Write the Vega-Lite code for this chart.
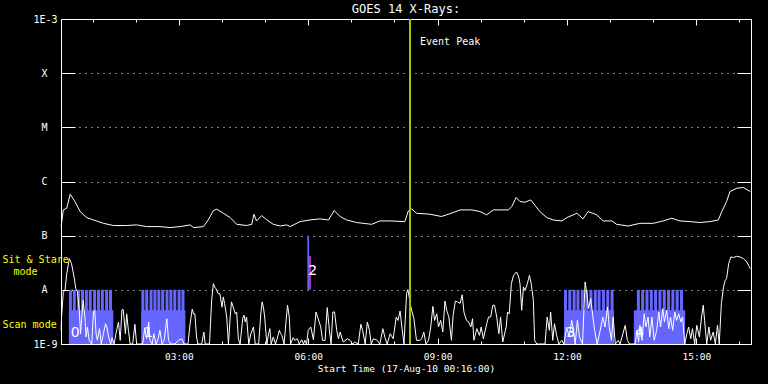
{
"$schema":"https://vega.github.io/schema/vega-lite/v6.json",
"width":690,"height":325,
"autosize":{"type":"none"},
"padding":{"left":61,"top":19,"right":17,"bottom":40},
"background":"black",
"title":{"text":"GOES 14 X-Rays:","color":"white","font":"DejaVu Sans Mono","fontSize":12,"fontWeight":"normal","offset":-11,"anchor":"middle","baseline":"alphabetic"},
"config":{
 "view":{"stroke":"white","strokeWidth":1},
 "axis":{"labelColor":"white","tickColor":"white","tickWidth":1,"domain":false,"grid":false,"labelFont":"DejaVu Sans Mono","labelFontSize":10,"titleFont":"DejaVu Sans Mono","titleColor":"white","titleFontWeight":"normal","titleFontSize":9.5,"labelOverlap":false,"labelFlush":false}
},
"datasets":{
 "goes_long":[
{"t":0.27,"flux":1.47e-7},{"t":0.32,"flux":2.99e-7},{"t":0.40,"flux":3.21e-7},{"t":0.48,"flux":5.82e-7},{"t":0.59,"flux":4.27e-7},{"t":0.71,"flux":2.79e-7},{"t":0.86,"flux":2.16e-7},{"t":1.02,"flux":1.95e-7},{"t":1.25,"flux":1.69e-7},{"t":1.48,"flux":1.54e-7},{"t":1.79,"flux":1.54e-7},{"t":2.02,"flux":1.58e-7},{"t":2.25,"flux":1.47e-7},{"t":2.56,"flux":1.47e-7},{"t":2.79,"flux":1.41e-7},{"t":3.03,"flux":1.47e-7},{"t":3.26,"flux":1.58e-7},{"t":3.34,"flux":1.41e-7},{"t":3.57,"flux":1.47e-7},{"t":3.68,"flux":1.95e-7},{"t":3.80,"flux":2.91e-7},{"t":3.88,"flux":3.08e-7},{"t":4.03,"flux":2.59e-7},{"t":4.19,"flux":2.16e-7},{"t":4.34,"flux":1.62e-7},{"t":4.57,"flux":1.54e-7},{"t":4.69,"flux":1.62e-7},{"t":4.74,"flux":2.49e-7},{"t":4.80,"flux":1.87e-7},{"t":4.92,"flux":2.35e-7},{"t":5.04,"flux":1.95e-7},{"t":5.19,"flux":1.62e-7},{"t":5.35,"flux":1.51e-7},{"t":5.50,"flux":1.58e-7},{"t":5.58,"flux":1.47e-7},{"t":5.81,"flux":1.82e-7},{"t":6.04,"flux":1.95e-7},{"t":6.27,"flux":2.04e-7},{"t":6.47,"flux":1.95e-7},{"t":6.60,"flux":2.91e-7},{"t":6.74,"flux":2.26e-7},{"t":6.89,"flux":1.95e-7},{"t":7.12,"flux":1.75e-7},{"t":7.47,"flux":1.62e-7},{"t":7.66,"flux":1.87e-7},{"t":7.90,"flux":1.87e-7},{"t":8.24,"flux":1.82e-7},{"t":8.32,"flux":2.86e-7},{"t":8.40,"flux":3.12e-7},{"t":8.51,"flux":2.59e-7},{"t":8.82,"flux":2.49e-7},{"t":9.09,"flux":2.26e-7},{"t":9.36,"flux":2.67e-7},{"t":9.52,"flux":2.99e-7},{"t":9.79,"flux":2.99e-7},{"t":9.98,"flux":2.79e-7},{"t":10.14,"flux":2.42e-7},{"t":10.29,"flux":2.99e-7},{"t":10.64,"flux":2.99e-7},{"t":10.72,"flux":3.45e-7},{"t":10.82,"flux":5.06e-7},{"t":10.91,"flux":4.27e-7},{"t":11.03,"flux":4.14e-7},{"t":11.10,"flux":4.38e-7},{"t":11.16,"flux":4.57e-7},{"t":11.26,"flux":3.60e-7},{"t":11.37,"flux":2.79e-7},{"t":11.53,"flux":2.16e-7},{"t":11.68,"flux":1.95e-7},{"t":11.88,"flux":1.87e-7},{"t":12.00,"flux":2.16e-7},{"t":12.23,"flux":2.59e-7},{"t":12.37,"flux":2.04e-7},{"t":12.49,"flux":2.79e-7},{"t":12.69,"flux":2.42e-7},{"t":12.84,"flux":1.87e-7},{"t":13.04,"flux":1.87e-7},{"t":13.15,"flux":1.62e-7},{"t":13.42,"flux":1.51e-7},{"t":13.69,"flux":1.69e-7},{"t":14.00,"flux":1.69e-7},{"t":14.23,"flux":1.87e-7},{"t":14.43,"flux":2.10e-7},{"t":14.62,"flux":1.87e-7},{"t":14.85,"flux":1.82e-7},{"t":15.08,"flux":1.75e-7},{"t":15.32,"flux":1.82e-7},{"t":15.51,"flux":1.95e-7},{"t":15.59,"flux":2.79e-7},{"t":15.70,"flux":4.27e-7},{"t":15.78,"flux":6.53e-7},{"t":15.94,"flux":7.52e-7},{"t":16.09,"flux":7.74e-7},{"t":16.25,"flux":6.53e-7}
 ],
 "goes_short":[
{"t":0.27,"flux":1.79e-9},{"t":0.28,"flux":3.15e-9},{"t":0.32,"flux":9.1e-9},{"t":0.36,"flux":9.8e-9},{"t":0.40,"flux":1.99e-8},{"t":0.46,"flux":3.77e-8},{"t":0.51,"flux":3.05e-8},{"t":0.57,"flux":1.73e-8},{"t":0.61,"flux":1.05e-8},{"t":0.65,"flux":9.1e-9},{"t":0.69,"flux":4.2e-9},{"t":0.72,"flux":1.55e-9},{"t":0.75,"flux":3.15e-9},{"t":0.78,"flux":6.4e-9},{"t":0.82,"flux":3.15e-9},{"t":0.85,"flux":1.35e-9},{"t":0.88,"flux":2.06e-9},{"t":0.92,"flux":1.17e-9},{"t":0.98,"flux":1e-9},{"t":1.02,"flux":3.9e-9},{"t":1.05,"flux":4.2e-9},{"t":1.08,"flux":1.55e-9},{"t":1.11,"flux":1.17e-9},{"t":1.16,"flux":1.92e-9},{"t":1.20,"flux":1e-9},{"t":1.25,"flux":1.55e-9},{"t":1.30,"flux":2.37e-9},{"t":1.33,"flux":2.06e-9},{"t":1.37,"flux":1.35e-9},{"t":1.42,"flux":1e-9},{"t":1.45,"flux":1.31e-9},{"t":1.50,"flux":1e-9},{"t":1.54,"flux":1.55e-9},{"t":1.60,"flux":2.55e-9},{"t":1.64,"flux":1.17e-9},{"t":1.68,"flux":4.3e-9},{"t":1.71,"flux":4.3e-9},{"t":1.76,"flux":1.55e-9},{"t":1.79,"flux":3.6e-9},{"t":1.83,"flux":1.79e-9},{"t":1.87,"flux":1e-9},{"t":1.93,"flux":1e-9},{"t":1.98,"flux":2.31e-9},{"t":2.02,"flux":1e-9},{"t":2.16,"flux":1e-9},{"t":2.21,"flux":2.0e-9},{"t":2.25,"flux":1.25e-9},{"t":2.30,"flux":2.55e-9},{"t":2.33,"flux":1.17e-9},{"t":2.38,"flux":1e-9},{"t":2.42,"flux":1.55e-9},{"t":2.47,"flux":1e-9},{"t":2.52,"flux":1.25e-9},{"t":2.56,"flux":1.79e-9},{"t":2.61,"flux":1e-9},{"t":2.66,"flux":1.17e-9},{"t":2.72,"flux":2.93e-9},{"t":2.76,"flux":1.17e-9},{"t":2.81,"flux":1e-9},{"t":2.91,"flux":1e-9},{"t":2.99,"flux":1.17e-9},{"t":3.07,"flux":1.25e-9},{"t":3.12,"flux":1e-9},{"t":3.21,"flux":1e-9},{"t":3.26,"flux":2.37e-9},{"t":3.31,"flux":4.4e-9},{"t":3.34,"flux":3.6e-9},{"t":3.37,"flux":3.6e-9},{"t":3.41,"flux":1.35e-9},{"t":3.44,"flux":1e-9},{"t":3.53,"flux":1e-9},{"t":3.58,"flux":1.66e-9},{"t":3.61,"flux":1e-9},{"t":3.71,"flux":1e-9},{"t":3.76,"flux":6.4e-9},{"t":3.80,"flux":1.3e-8},{"t":3.83,"flux":1.13e-8},{"t":3.86,"flux":1.05e-8},{"t":3.91,"flux":8.5e-9},{"t":3.95,"flux":8.5e-9},{"t":4.00,"flux":4.8e-9},{"t":4.03,"flux":7.4e-9},{"t":4.06,"flux":5.6e-9},{"t":4.11,"flux":3.15e-9},{"t":4.15,"flux":1e-9},{"t":4.19,"flux":3.15e-9},{"t":4.22,"flux":6.0e-9},{"t":4.26,"flux":4.8e-9},{"t":4.31,"flux":3.6e-9},{"t":4.34,"flux":3.9e-9},{"t":4.38,"flux":1.25e-9},{"t":4.42,"flux":1e-9},{"t":4.48,"flux":2.93e-9},{"t":4.51,"flux":3.4e-9},{"t":4.54,"flux":2.55e-9},{"t":4.57,"flux":3.15e-9},{"t":4.62,"flux":1e-9},{"t":4.67,"flux":1.55e-9},{"t":4.73,"flux":2.06e-9},{"t":4.77,"flux":1e-9},{"t":4.85,"flux":1e-9},{"t":4.90,"flux":3.6e-9},{"t":4.93,"flux":6.0e-9},{"t":4.96,"flux":4.8e-9},{"t":4.99,"flux":3.15e-9},{"t":5.04,"flux":1e-9},{"t":5.08,"flux":1.55e-9},{"t":5.11,"flux":1.92e-9},{"t":5.14,"flux":1e-9},{"t":5.19,"flux":1.35e-9},{"t":5.24,"flux":1e-9},{"t":5.28,"flux":1.25e-9},{"t":5.33,"flux":1.79e-9},{"t":5.36,"flux":1.55e-9},{"t":5.39,"flux":1.44e-9},{"t":5.44,"flux":1e-9},{"t":5.48,"flux":2.37e-9},{"t":5.52,"flux":5.2e-9},{"t":5.56,"flux":3.15e-9},{"t":5.59,"flux":1e-9},{"t":5.65,"flux":1.31e-9},
{"t":5.69,"flux":1.17e-9},{"t":5.75,"flux":1.25e-9},{"t":5.79,"flux":1e-9},{"t":5.85,"flux":1.2e-9},{"t":5.89,"flux":1e-9},{"t":5.92,"flux":1.17e-9},{"t":5.96,"flux":1e-9},{"t":6.00,"flux":1.79e-9},{"t":6.06,"flux":2.06e-9},{"t":6.12,"flux":1.2e-9},{"t":6.18,"flux":3.9e-9},{"t":6.23,"flux":2.93e-9},{"t":6.29,"flux":2.06e-9},{"t":6.33,"flux":1.17e-9},{"t":6.39,"flux":1.17e-9},{"t":6.44,"flux":4.7e-9},{"t":6.49,"flux":1.79e-9},{"t":6.53,"flux":1e-9},{"t":6.57,"flux":3.9e-9},{"t":6.61,"flux":3.9e-9},{"t":6.66,"flux":1.79e-9},{"t":6.70,"flux":1.25e-9},{"t":6.74,"flux":1.66e-9},{"t":6.81,"flux":1.09e-9},{"t":6.91,"flux":1.25e-9},{"t":6.97,"flux":1.17e-9},{"t":7.03,"flux":1e-9},{"t":7.08,"flux":1.09e-9},{"t":7.16,"flux":1e-9},{"t":7.22,"flux":2.31e-9},{"t":7.26,"flux":1.79e-9},{"t":7.32,"flux":1e-9},{"t":7.37,"flux":2.55e-9},{"t":7.42,"flux":1.79e-9},{"t":7.46,"flux":1e-9},{"t":7.51,"flux":1.25e-9},{"t":7.60,"flux":1.17e-9},{"t":7.66,"flux":1e-9},{"t":7.73,"flux":1.92e-9},{"t":7.78,"flux":1.31e-9},{"t":7.83,"flux":1e-9},{"t":7.90,"flux":1.55e-9},{"t":7.97,"flux":1.25e-9},{"t":8.04,"flux":3.15e-9},{"t":8.08,"flux":2.73e-9},{"t":8.13,"flux":4.07e-9},{"t":8.17,"flux":2.06e-9},{"t":8.22,"flux":1e-9},{"t":8.28,"flux":8.5e-9},{"t":8.31,"flux":1.01e-8},{"t":8.34,"flux":7.4e-9},{"t":8.38,"flux":4.8e-9},{"t":8.45,"flux":2.93e-9},{"t":8.51,"flux":1.17e-9},{"t":8.59,"flux":1.17e-9},{"t":8.63,"flux":1.25e-9},{"t":8.68,"flux":1.66e-9},{"t":8.73,"flux":1e-9},{"t":8.79,"flux":1.17e-9},{"t":8.84,"flux":2.06e-9},{"t":8.89,"flux":4.95e-9},{"t":8.93,"flux":2.73e-9},{"t":8.98,"flux":3.6e-9},{"t":9.02,"flux":2.06e-9},{"t":9.07,"flux":2.73e-9},{"t":9.12,"flux":1.66e-9},{"t":9.17,"flux":6.2e-9},{"t":9.21,"flux":4.2e-9},{"t":9.26,"flux":3.15e-9},{"t":9.32,"flux":1.17e-9},{"t":9.36,"flux":3.4e-9},{"t":9.41,"flux":6.2e-9},{"t":9.46,"flux":6.0e-9},{"t":9.52,"flux":5.6e-9},{"t":9.57,"flux":8.1e-9},{"t":9.61,"flux":3.9e-9},{"t":9.67,"flux":2.73e-9},{"t":9.72,"flux":2.55e-9},{"t":9.77,"flux":2.06e-9},{"t":9.81,"flux":2.93e-9},{"t":9.84,"flux":1.17e-9},{"t":9.91,"flux":1.92e-9},{"t":9.97,"flux":1.44e-9},{"t":10.01,"flux":2.06e-9},{"t":10.06,"flux":1.25e-9},{"t":10.14,"flux":2.37e-9},{"t":10.18,"flux":3.15e-9},{"t":10.23,"flux":3.15e-9},{"t":10.28,"flux":5.2e-9},{"t":10.32,"flux":5.2e-9},{"t":10.37,"flux":3.15e-9},{"t":10.42,"flux":1.55e-9},{"t":10.46,"flux":3.15e-9},{"t":10.51,"flux":1.09e-9},{"t":10.59,"flux":2.06e-9},{"t":10.62,"flux":3.9e-9},{"t":10.66,"flux":3.6e-9},{"t":10.71,"flux":1.3e-8},{"t":10.76,"flux":1.85e-8},{"t":10.83,"flux":2.14e-8},{"t":10.88,"flux":1.73e-8},
{"t":10.91,"flux":1.3e-8},{"t":10.95,"flux":4.2e-9},{"t":10.99,"flux":1.13e-8},{"t":11.03,"flux":9.8e-9},{"t":11.08,"flux":1.3e-8},{"t":11.13,"flux":1.85e-8},{"t":11.17,"flux":1.3e-8},{"t":11.22,"flux":6.4e-9},{"t":11.25,"flux":1.17e-9},{"t":11.30,"flux":1e-9},{"t":11.49,"flux":1e-9},{"t":11.54,"flux":3.15e-9},{"t":11.59,"flux":1.79e-9},{"t":11.62,"flux":3.9e-9},{"t":11.67,"flux":1.17e-9},{"t":11.71,"flux":2.37e-9},{"t":11.76,"flux":1.44e-9},{"t":11.81,"flux":1e-9},{"t":11.88,"flux":1.17e-9},{"t":11.93,"flux":1e-9},{"t":11.99,"flux":2.06e-9},{"t":12.05,"flux":1.35e-9},{"t":12.11,"flux":2.73e-9},{"t":12.15,"flux":1.79e-9},{"t":12.19,"flux":1e-9},{"t":12.24,"flux":2.73e-9},{"t":12.29,"flux":1.35e-9},{"t":12.36,"flux":1e-9},{"t":12.42,"flux":1.4e-8},{"t":12.46,"flux":8.5e-9},{"t":12.50,"flux":4.5e-9},{"t":12.55,"flux":6.9e-9},{"t":12.60,"flux":3.15e-9},{"t":12.64,"flux":1.79e-9},{"t":12.70,"flux":1e-9},{"t":12.77,"flux":1.79e-9},{"t":12.83,"flux":3.15e-9},{"t":12.88,"flux":2.06e-9},{"t":12.94,"flux":4.8e-9},{"t":12.98,"flux":2.06e-9},{"t":13.03,"flux":1.17e-9},{"t":13.07,"flux":3.15e-9},{"t":13.12,"flux":1e-9},{"t":13.19,"flux":1.17e-9},{"t":13.23,"flux":1e-9},{"t":13.35,"flux":2.21e-9},{"t":13.40,"flux":1.17e-9},{"t":13.45,"flux":1e-9},{"t":13.58,"flux":1e-9},{"t":13.62,"flux":1.79e-9},{"t":13.66,"flux":1.09e-9},{"t":13.69,"flux":2.21e-9},{"t":13.74,"flux":1.17e-9},{"t":13.79,"flux":3.6e-9},{"t":13.83,"flux":2.06e-9},{"t":13.88,"flux":3.15e-9},{"t":13.92,"flux":1.35e-9},{"t":13.97,"flux":3.15e-9},{"t":14.02,"flux":1.17e-9},{"t":14.08,"flux":1.79e-9},{"t":14.13,"flux":3.9e-9},{"t":14.17,"flux":2.06e-9},{"t":14.22,"flux":4.5e-9},{"t":14.26,"flux":2.55e-9},{"t":14.31,"flux":4.2e-9},{"t":14.36,"flux":1.92e-9},{"t":14.40,"flux":3.15e-9},{"t":14.45,"flux":1.79e-9},{"t":14.50,"flux":3.9e-9},{"t":14.54,"flux":2.73e-9},{"t":14.59,"flux":3.6e-9},{"t":14.64,"flux":2.55e-9},{"t":14.68,"flux":3.15e-9},{"t":14.73,"flux":1e-9},{"t":14.78,"flux":1.55e-9},{"t":14.82,"flux":2.06e-9},{"t":14.87,"flux":1.25e-9},{"t":14.91,"flux":1.92e-9},{"t":14.96,"flux":1e-9},{"t":15.01,"flux":2.21e-9},{"t":15.07,"flux":1.35e-9},{"t":15.12,"flux":3.15e-9},{"t":15.16,"flux":5.2e-9},{"t":15.19,"flux":2.73e-9},{"t":15.24,"flux":1e-9},{"t":15.29,"flux":2.06e-9},{"t":15.33,"flux":1.17e-9},{"t":15.39,"flux":1.66e-9},{"t":15.44,"flux":1e-9},{"t":15.49,"flux":2.21e-9},{"t":15.53,"flux":1e-9},{"t":15.58,"flux":5.6e-9},{"t":15.63,"flux":1.13e-8},{"t":15.67,"flux":1.5e-8},{"t":15.70,"flux":1.61e-8},{"t":15.75,"flux":3.05e-8},{"t":15.80,"flux":4.05e-8},{"t":15.86,"flux":3.94e-8},{"t":15.93,"flux":4.16e-8},{"t":16.01,"flux":4.05e-8},{"t":16.09,"flux":3.77e-8},{"t":16.17,"flux":3.27e-8},{"t":16.23,"flux":2.64e-8},{"t":16.25,"flux":2.46e-8}
 ],
 "scan_blocks":[
{"t0":0.45,"t1":1.48,"flux_lo":1e-9,"flux_hi":4.2e-9},{"t0":2.13,"t1":3.15,"flux_lo":1e-9,"flux_hi":4.2e-9},{"t0":11.93,"t1":13.09,"flux_lo":1e-9,"flux_hi":4.2e-9},{"t0":13.55,"t1":14.74,"flux_lo":1e-9,"flux_hi":4.2e-9}
 ],
 "scan_steps":[
{"t0":0.45,"t1":0.52},{"t0":0.54,"t1":0.61},{"t0":0.64,"t1":0.71},{"t0":0.73,"t1":0.80},{"t0":0.82,"t1":0.89},{"t0":0.91,"t1":0.98},{"t0":1.01,"t1":1.08},{"t0":1.10,"t1":1.17},{"t0":1.19,"t1":1.26},{"t0":1.29,"t1":1.36},{"t0":1.38,"t1":1.45},
{"t0":2.13,"t1":2.20},{"t0":2.22,"t1":2.29},{"t0":2.32,"t1":2.39},{"t0":2.41,"t1":2.48},{"t0":2.50,"t1":2.57},{"t0":2.59,"t1":2.66},{"t0":2.69,"t1":2.76},{"t0":2.78,"t1":2.85},{"t0":2.87,"t1":2.94},{"t0":2.97,"t1":3.04},{"t0":3.06,"t1":3.13},
{"t0":11.93,"t1":12.00},{"t0":12.03,"t1":12.10},{"t0":12.13,"t1":12.20},{"t0":12.22,"t1":12.29},{"t0":12.32,"t1":12.39},{"t0":12.42,"t1":12.49},{"t0":12.52,"t1":12.59},{"t0":12.62,"t1":12.69},{"t0":12.71,"t1":12.78},{"t0":12.81,"t1":12.88},{"t0":12.91,"t1":12.98},{"t0":13.01,"t1":13.08},
{"t0":13.62,"t1":13.69},{"t0":13.72,"t1":13.79},{"t0":13.82,"t1":13.89},{"t0":13.92,"t1":13.99},{"t0":14.02,"t1":14.09},{"t0":14.12,"t1":14.19},{"t0":14.22,"t1":14.29},{"t0":14.32,"t1":14.39},{"t0":14.42,"t1":14.49},{"t0":14.52,"t1":14.59},{"t0":14.62,"t1":14.69}
 ],
 "sit_stare":[
{"t0":5.98,"t1":6.02,"flux_lo":1e-8,"flux_hi":1e-7,"kind":"pointing"},{"t0":6.02,"t1":6.06,"flux_lo":1e-8,"flux_hi":4.2e-8,"kind":"dwell"}
 ],
 "scan_labels":[
{"t":0.49,"flux":1.57e-9,"label":"0"},{"t":2.19,"flux":1.57e-9,"label":"1"},{"t":6.0,"flux":2.2e-8,"label":"2"},{"t":11.98,"flux":1.57e-9,"label":"3"},{"t":13.58,"flux":1.57e-9,"label":"4"}
 ],
 "event":[{"t":8.36,"label":"Event Peak"}]
},
"resolve":{"axis":{"x":"independent","y":"independent"}},
"layer":[
 {"data":{"name":"scan_blocks"},"mark":{"type":"rect","color":"#6666ff"},
  "encoding":{
   "x":{"field":"t0","type":"quantitative","scale":{"domain":[0.2667,16.2667],"nice":false,"zero":false},"axis":{"orient":"bottom","values":[3,6,9,12,15],"tickSize":-6,"labels":false,"title":null}},
   "x2":{"field":"t1"},
   "y":{"field":"flux_lo","type":"quantitative","scale":{"type":"log","domain":[1e-9,1e-3],"nice":false},"axis":{"orient":"left","values":[1e-9,1e-8,1e-7,1e-6,1e-5,1e-4,1e-3],"tickSize":-14,"labels":false,"grid":true,"gridColor":"white","gridDash":[1,5],"gridOpacity":1,"title":null}},
   "y2":{"field":"flux_hi"}}},
 {"data":{"name":"scan_steps"},"mark":{"type":"rect","color":"#6666ff"},
  "encoding":{
   "x":{"field":"t0","type":"quantitative","scale":{"domain":[0.2667,16.2667],"nice":false,"zero":false},"axis":{"orient":"top","values":[3,6,9,12,15],"tickSize":-6,"labels":false,"title":null}},
   "x2":{"field":"t1"},
   "y":{"datum":1e-9,"type":"quantitative","scale":{"type":"log","domain":[1e-9,1e-3],"nice":false},"axis":{"orient":"right","values":[1e-9,1e-8,1e-7,1e-6,1e-5,1e-4,1e-3],"tickSize":-14,"labels":false,"title":null}},
   "y2":{"datum":1e-8}}},
 {"data":{"name":"sit_stare"},"mark":{"type":"rect"},
  "encoding":{
   "x":{"field":"t0","type":"quantitative","scale":{"domain":[0.2667,16.2667],"nice":false,"zero":false},"axis":{"orient":"bottom","values":[1,2,4,5,7,8,10,11,13,14,16],"tickSize":-3,"labels":false,"title":null}},
   "x2":{"field":"t1"},
   "y":{"field":"flux_lo","type":"quantitative","scale":{"type":"log","domain":[1e-9,1e-3],"nice":false},"axis":{"orient":"left","values":[3.7e-8,2.34e-9],"ticks":false,"labelExpr":"datum.value > 1e-8 ? 'Sit & Stare' : 'Scan mode'","labelAlign":"left","labelBaseline":"middle","labelPadding":59,"labelColor":"#ffff00","labelFontSize":10,"title":null}},
   "y2":{"field":"flux_hi"},
   "color":{"field":"kind","type":"nominal","scale":{"domain":["pointing","dwell"],"range":["#6666ff","#cc33cc"]},"legend":null}}},
 {"data":{"name":"scan_labels"},"mark":{"type":"text","color":"white","align":"left","baseline":"middle","font":"DejaVu Sans","fontSize":14},
  "encoding":{
   "x":{"field":"t","type":"quantitative","scale":{"domain":[0.2667,16.2667],"nice":false,"zero":false},"axis":{"orient":"top","values":[1,2,4,5,7,8,10,11,13,14,16],"tickSize":-3,"labels":false,"title":null}},
   "y":{"field":"flux","type":"quantitative","scale":{"type":"log","domain":[1e-9,1e-3],"nice":false},"axis":{"orient":"left","values":[2.16e-8],"ticks":false,"labelExpr":"'mode'","labelAlign":"left","labelBaseline":"middle","labelPadding":48,"labelColor":"#ffff00","labelFontSize":10,"title":null}},
   "text":{"field":"label"}}},
 {"data":{"name":"goes_long"},"mark":{"type":"line","color":"white","strokeWidth":1},
  "encoding":{
   "x":{"field":"t","type":"quantitative","scale":{"domain":[0.2667,16.2667],"nice":false,"zero":false},"axis":{"orient":"bottom","values":[3,6,9,12,15],"ticks":false,"labelExpr":"(datum.value < 10 ? '0' : '') + datum.value + ':00'","labelPadding":7,"labelFontSize":9.5,"title":"Start Time (17-Aug-10 00:16:00)","titlePadding":3}},
   "y":{"field":"flux","type":"quantitative","scale":{"type":"log","domain":[1e-9,1e-3],"nice":false},"axis":{"orient":"left","values":[1e-9,1e-3],"ticks":false,"labelExpr":"datum.value > 1e-6 ? '1E-3' : '1E-9'","labelPadding":4,"labelBaseline":"middle","title":null}}}},
 {"data":{"name":"goes_short"},"mark":{"type":"line","color":"white","strokeWidth":1},
  "encoding":{
   "x":{"field":"t","type":"quantitative","scale":{"domain":[0.2667,16.2667],"nice":false,"zero":false},"axis":null},
   "y":{"field":"flux","type":"quantitative","scale":{"type":"log","domain":[1e-9,1e-3],"nice":false},"axis":{"orient":"left","values":[1e-8,1e-7,1e-6,1e-5,1e-4],"ticks":false,"labelExpr":"datum.value >= 5e-5 ? 'X' : datum.value >= 5e-6 ? 'M' : datum.value >= 5e-7 ? 'C' : datum.value >= 5e-8 ? 'B' : 'A'","labelPadding":14,"labelBaseline":"middle","title":null}}}},
 {"data":{"name":"event"},"mark":{"type":"rule","color":"#a0c800","strokeWidth":2},
  "encoding":{
   "x":{"field":"t","type":"quantitative","scale":{"domain":[0.2667,16.2667],"nice":false,"zero":false},"axis":null}}},
 {"data":{"name":"event"},"mark":{"type":"text","color":"white","align":"left","baseline":"middle","dx":10,"font":"DejaVu Sans Mono","fontSize":10},
  "encoding":{
   "x":{"field":"t","type":"quantitative","scale":{"domain":[0.2667,16.2667],"nice":false,"zero":false},"axis":null},
   "y":{"datum":3.7e-4,"type":"quantitative","axis":null},
   "text":{"field":"label"}}}
]
}
